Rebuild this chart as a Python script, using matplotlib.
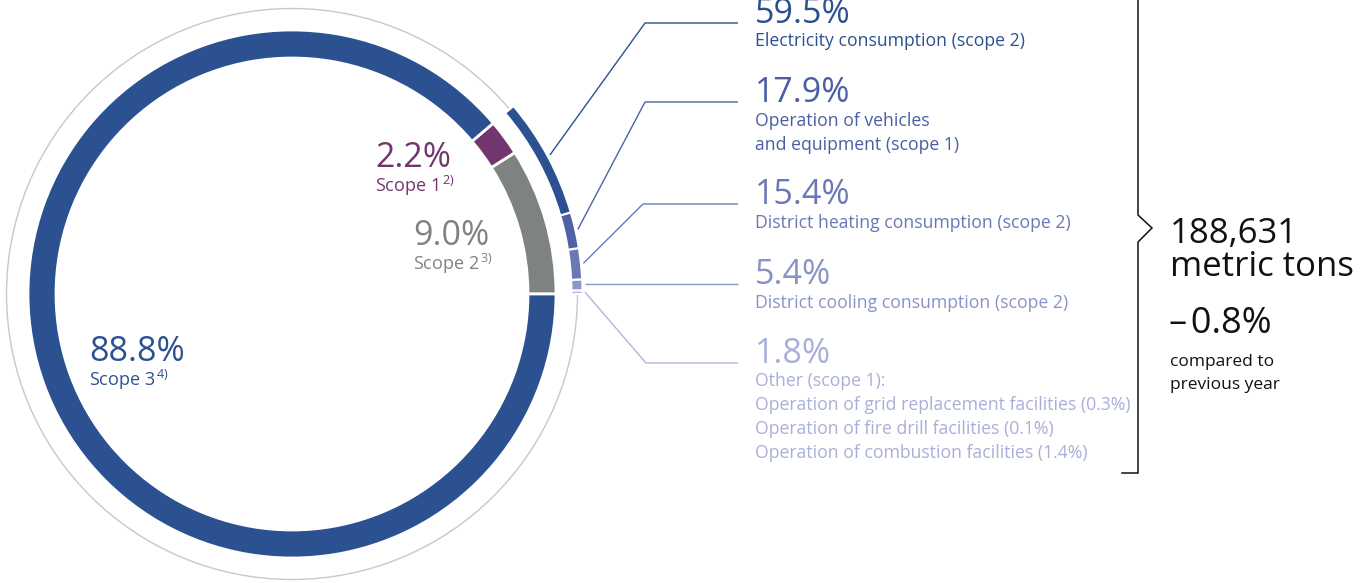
import numpy as np
import matplotlib
matplotlib.use("Agg")
import matplotlib.pyplot as plt
from matplotlib.patches import Circle

plt.rcParams['font.family'] = ['Open Sans', 'DejaVu Sans']
plt.rcParams['mathtext.fontset'] = 'custom'
plt.rcParams['mathtext.rm'] = 'Open Sans'

# ---- data ----
scope_names = ["Scope 2", "Scope 1", "Scope 3"]
scope_share = [9.0, 2.2, 88.8]
scope_notes = ["3)", "2)", "4)"]
scope_colors = ["#7e8381", "#72366f", "#2b5191"]

# breakdown of scope 1 + 2, listed from top to bottom
detail_share = [59.5, 17.9, 15.4, 5.4, 1.8]
detail_labels = [
    ["Electricity consumption (scope 2)"],
    ["Operation of vehicles", "and equipment (scope 1)"],
    ["District heating consumption (scope 2)"],
    ["District cooling consumption (scope 2)"],
    ["Other (scope 1):",
     "Operation of grid replacement facilities (0.3%)",
     "Operation of fire drill facilities (0.1%)",
     "Operation of combustion facilities (1.4%)"],
]
detail_colors = ["#2b5191", "#4f62a4", "#6a79b6", "#8d96c9", "#b0b6dd"]
detail_text_colors = ["#2b5191", "#4a5ea3", "#6a78b5", "#8993c8", "#a9afd9"]

total_t = "188,631"
change_pct = "\u2013\u200a0.8%"

# ---- figure ----
W, H = 1371, 583
fig = plt.figure(figsize=(W / 100, H / 100), dpi=100)
ax = fig.add_axes([0, 0, 1, 1])

cx, cy = 292, 294          # image coords
R_main, w_main = 264, 28
R_out, w_out = 290.5, 11


def Y(y):
    return H - y


ax.add_patch(Circle((cx, Y(cy)), 285.5, fill=False, ec="#c8c8c8", lw=1.0, zorder=1))

ax.pie(scope_share, colors=scope_colors, startangle=0, counterclock=True,
       radius=R_main, center=(cx, Y(cy)),
       wedgeprops=dict(width=w_main, edgecolor="white", linewidth=2))

s12 = scope_share[0] + scope_share[1]
out_vals = [v * s12 / 100 for v in detail_share[::-1]] + [100 - s12]
out_cols = detail_colors[::-1] + ["none"]
wedges, _ = ax.pie(out_vals, colors=out_cols, startangle=0, counterclock=True,
                   radius=R_out, center=(cx, Y(cy)),
                   wedgeprops=dict(width=w_out, edgecolor="white", linewidth=1.5))
wedges[-1].set_edgecolor("none")
for w in wedges:
    w.set_zorder(3)

# leader lines + labels on the right
big_y = [23, 102, 204, 284, 363]        # baseline of the big numbers
elbow_x = [645, 645, 643, 643, 646]
text_x = 755
cum = np.cumsum([0] + out_vals[:5])
mids = (cum[:-1] + cum[1:]) / 2 * 3.6  # degrees, order: other ... electricity
mids = mids[::-1]
for i in range(5):
    th = np.deg2rad(mids[i])
    x0 = cx + 293 * np.cos(th)
    y0 = cy - 293 * np.sin(th)
    ey = big_y[i]
    if i == 3:
        xs, ys = [x0, 738], [ey, ey]
    else:
        xs, ys = [x0, elbow_x[i], 738], [y0, ey, ey]
    ax.plot(xs, [Y(v) for v in ys], color=detail_colors[i], lw=1.0,
            solid_capstyle="butt", zorder=2)
    ax.text(text_x, Y(big_y[i]), f"{detail_share[i]:.1f}%", fontsize=24.5,
            color=detail_text_colors[i], va="baseline", ha="left")
    for k, line in enumerate(detail_labels[i]):
        ax.text(text_x, Y(big_y[i] + 23.5 + 24 * k), line, fontsize=12.7,
                color=detail_text_colors[i], va="baseline", ha="left")

# inner scope labels
inner_pos = [(413, 245), (375, 167), (89, 361)]
for (tx, ty), name, val, note, col in zip(inner_pos, scope_names, scope_share,
                                          scope_notes, scope_colors):
    ax.text(tx, Y(ty), f"{val:.1f}%", fontsize=24.5, color=col, va="baseline")
    ax.text(tx, Y(ty + 25), name + r"$^{\,\mathrm{" + note + "}}$", fontsize=13,
            color=col, va="baseline")

# bracket
bx = 1138
ax.plot([bx, bx, 1152, bx, bx, 1122],
        [Y(0), Y(215), Y(228), Y(242), Y(473), Y(473)],
        color="#111111", lw=1.1, solid_joinstyle="miter")

ax.text(1170, Y(243), total_t, fontsize=25, color="#111111", va="baseline")
ax.text(1170, Y(276), "metric tons", fontsize=25, color="#111111", va="baseline")
ax.text(1169, Y(333), change_pct, fontsize=26, color="#111111", va="baseline")
ax.text(1170, Y(366), "compared to", fontsize=12.5, color="#111111", va="baseline")
ax.text(1170, Y(389), "previous year", fontsize=12.5, color="#111111", va="baseline")

ax.set_xlim(0, W)
ax.set_ylim(0, H)
ax.set_aspect("auto")
ax.axis("off")

fig.savefig("out.png", dpi=100, facecolor="white")
